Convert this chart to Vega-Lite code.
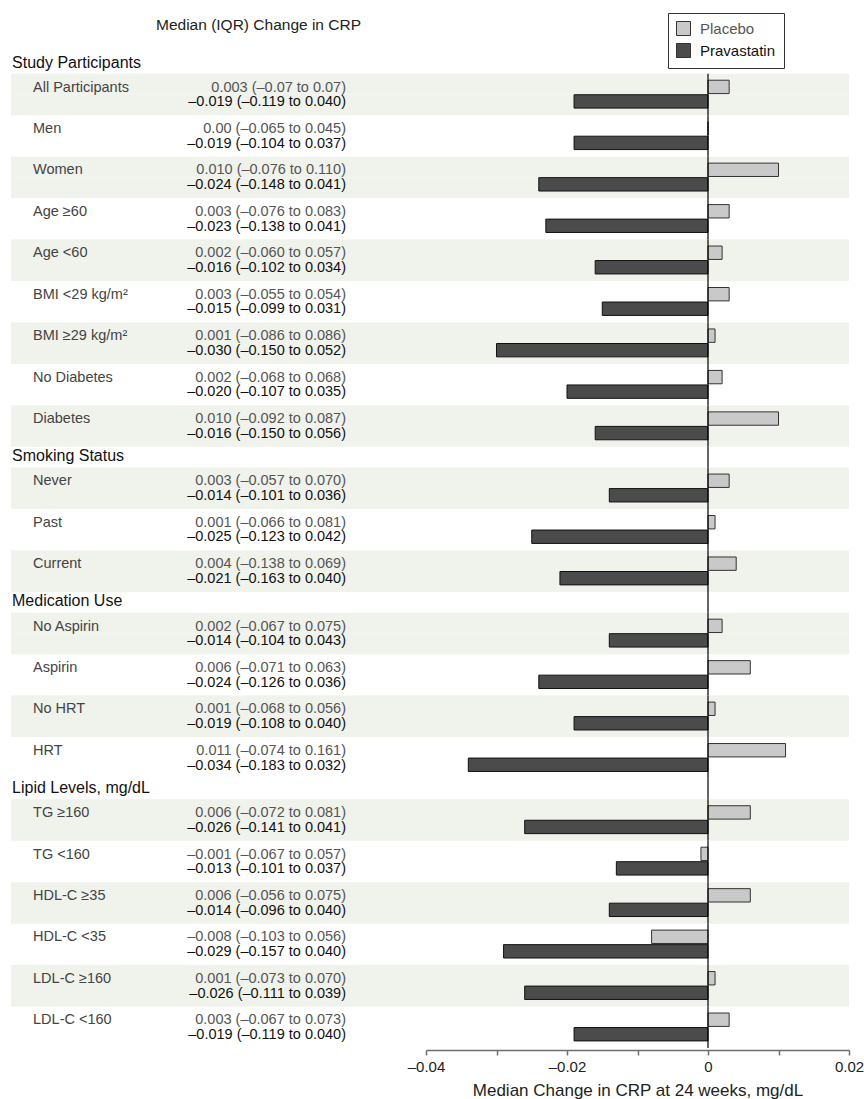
{
  "$schema": "https://vega.github.io/schema/vega-lite/v6.json",
  "background": "white",
  "padding": {"left": 11, "top": 12, "right": 5, "bottom": 5},
  "config": {"font": "Liberation Sans", "view": {"stroke": null}},
  "bounds": "flush",
  "spacing": 0,
  "resolve": {"scale": {"y": "shared"}, "legend": {"color": "independent"}},
  "data": {
    "values": [
      {"section": "Study Participants"},
      {"section": "Study Participants", "group": "All Participants", "arm": "Placebo", "median": 0.003, "text": "0.003 (–0.07 to 0.07)"},
      {"section": "Study Participants", "group": "All Participants", "arm": "Pravastatin", "median": -0.019, "text": "–0.019 (–0.119 to 0.040)"},
      {"section": "Study Participants", "group": "Men", "arm": "Placebo", "median": 0.0, "text": "0.00 (–0.065 to 0.045)"},
      {"section": "Study Participants", "group": "Men", "arm": "Pravastatin", "median": -0.019, "text": "–0.019 (–0.104 to 0.037)"},
      {"section": "Study Participants", "group": "Women", "arm": "Placebo", "median": 0.010, "text": "0.010 (–0.076 to 0.110)"},
      {"section": "Study Participants", "group": "Women", "arm": "Pravastatin", "median": -0.024, "text": "–0.024 (–0.148 to 0.041)"},
      {"section": "Study Participants", "group": "Age ≥60", "arm": "Placebo", "median": 0.003, "text": "0.003 (–0.076 to 0.083)"},
      {"section": "Study Participants", "group": "Age ≥60", "arm": "Pravastatin", "median": -0.023, "text": "–0.023 (–0.138 to 0.041)"},
      {"section": "Study Participants", "group": "Age <60", "arm": "Placebo", "median": 0.002, "text": "0.002 (–0.060 to 0.057)"},
      {"section": "Study Participants", "group": "Age <60", "arm": "Pravastatin", "median": -0.016, "text": "–0.016 (–0.102 to 0.034)"},
      {"section": "Study Participants", "group": "BMI <29 kg/m²", "arm": "Placebo", "median": 0.003, "text": "0.003 (–0.055 to 0.054)"},
      {"section": "Study Participants", "group": "BMI <29 kg/m²", "arm": "Pravastatin", "median": -0.015, "text": "–0.015 (–0.099 to 0.031)"},
      {"section": "Study Participants", "group": "BMI ≥29 kg/m²", "arm": "Placebo", "median": 0.001, "text": "0.001 (–0.086 to 0.086)"},
      {"section": "Study Participants", "group": "BMI ≥29 kg/m²", "arm": "Pravastatin", "median": -0.030, "text": "–0.030 (–0.150 to 0.052)"},
      {"section": "Study Participants", "group": "No Diabetes", "arm": "Placebo", "median": 0.002, "text": "0.002 (–0.068 to 0.068)"},
      {"section": "Study Participants", "group": "No Diabetes", "arm": "Pravastatin", "median": -0.020, "text": "–0.020 (–0.107 to 0.035)"},
      {"section": "Study Participants", "group": "Diabetes", "arm": "Placebo", "median": 0.010, "text": "0.010 (–0.092 to 0.087)"},
      {"section": "Study Participants", "group": "Diabetes", "arm": "Pravastatin", "median": -0.016, "text": "–0.016 (–0.150 to 0.056)"},
      {"section": "Smoking Status"},
      {"section": "Smoking Status", "group": "Never", "arm": "Placebo", "median": 0.003, "text": "0.003 (–0.057 to 0.070)"},
      {"section": "Smoking Status", "group": "Never", "arm": "Pravastatin", "median": -0.014, "text": "–0.014 (–0.101 to 0.036)"},
      {"section": "Smoking Status", "group": "Past", "arm": "Placebo", "median": 0.001, "text": "0.001 (–0.066 to 0.081)"},
      {"section": "Smoking Status", "group": "Past", "arm": "Pravastatin", "median": -0.025, "text": "–0.025 (–0.123 to 0.042)"},
      {"section": "Smoking Status", "group": "Current", "arm": "Placebo", "median": 0.004, "text": "0.004 (–0.138 to 0.069)"},
      {"section": "Smoking Status", "group": "Current", "arm": "Pravastatin", "median": -0.021, "text": "–0.021 (–0.163 to 0.040)"},
      {"section": "Medication Use"},
      {"section": "Medication Use", "group": "No Aspirin", "arm": "Placebo", "median": 0.002, "text": "0.002 (–0.067 to 0.075)"},
      {"section": "Medication Use", "group": "No Aspirin", "arm": "Pravastatin", "median": -0.014, "text": "–0.014 (–0.104 to 0.043)"},
      {"section": "Medication Use", "group": "Aspirin", "arm": "Placebo", "median": 0.006, "text": "0.006 (–0.071 to 0.063)"},
      {"section": "Medication Use", "group": "Aspirin", "arm": "Pravastatin", "median": -0.024, "text": "–0.024 (–0.126 to 0.036)"},
      {"section": "Medication Use", "group": "No HRT", "arm": "Placebo", "median": 0.001, "text": "0.001 (–0.068 to 0.056)"},
      {"section": "Medication Use", "group": "No HRT", "arm": "Pravastatin", "median": -0.019, "text": "–0.019 (–0.108 to 0.040)"},
      {"section": "Medication Use", "group": "HRT", "arm": "Placebo", "median": 0.011, "text": "0.011 (–0.074 to 0.161)"},
      {"section": "Medication Use", "group": "HRT", "arm": "Pravastatin", "median": -0.034, "text": "–0.034 (–0.183 to 0.032)"},
      {"section": "Lipid Levels, mg/dL"},
      {"section": "Lipid Levels, mg/dL", "group": "TG ≥160", "arm": "Placebo", "median": 0.006, "text": "0.006 (–0.072 to 0.081)"},
      {"section": "Lipid Levels, mg/dL", "group": "TG ≥160", "arm": "Pravastatin", "median": -0.026, "text": "–0.026 (–0.141 to 0.041)"},
      {"section": "Lipid Levels, mg/dL", "group": "TG <160", "arm": "Placebo", "median": -0.001, "text": "–0.001 (–0.067 to 0.057)"},
      {"section": "Lipid Levels, mg/dL", "group": "TG <160", "arm": "Pravastatin", "median": -0.013, "text": "–0.013 (–0.101 to 0.037)"},
      {"section": "Lipid Levels, mg/dL", "group": "HDL-C ≥35", "arm": "Placebo", "median": 0.006, "text": "0.006 (–0.056 to 0.075)"},
      {"section": "Lipid Levels, mg/dL", "group": "HDL-C ≥35", "arm": "Pravastatin", "median": -0.014, "text": "–0.014 (–0.096 to 0.040)"},
      {"section": "Lipid Levels, mg/dL", "group": "HDL-C <35", "arm": "Placebo", "median": -0.008, "text": "–0.008 (–0.103 to 0.056)"},
      {"section": "Lipid Levels, mg/dL", "group": "HDL-C <35", "arm": "Pravastatin", "median": -0.029, "text": "–0.029 (–0.157 to 0.040)"},
      {"section": "Lipid Levels, mg/dL", "group": "LDL-C ≥160", "arm": "Placebo", "median": 0.001, "text": "0.001 (–0.073 to 0.070)"},
      {"section": "Lipid Levels, mg/dL", "group": "LDL-C ≥160", "arm": "Pravastatin", "median": -0.026, "text": "–0.026 (–0.111 to 0.039)"},
      {"section": "Lipid Levels, mg/dL", "group": "LDL-C <160", "arm": "Placebo", "median": 0.003, "text": "0.003 (–0.067 to 0.073)"},
      {"section": "Lipid Levels, mg/dL", "group": "LDL-C <160", "arm": "Pravastatin", "median": -0.019, "text": "–0.019 (–0.119 to 0.040)"}
    ]
  },
  "transform": [
    {"window": [{"op": "row_number", "as": "line"}]},
    {"joinaggregate": [{"op": "min", "field": "line", "as": "first"}], "groupby": ["section", "group"]},
    {"window": [{"op": "dense_rank", "as": "rank"}], "sort": [{"field": "first"}], "groupby": ["section"]}
  ],
  "hconcat": [
    {
      "width": 415,
      "height": 995,
      "title": {"text": "Median (IQR) Change in CRP", "anchor": "start", "frame": "group", "dx": 145, "offset": 20, "fontSize": 15.5, "fontWeight": "normal", "color": "#222"},
      "layer": [
        {
          "transform": [{"filter": "datum.rank % 2 === 0"}],
          "mark": {"type": "rect", "color": "#f0f2ec"},
          "encoding": {
            "y": {"field": "line", "type": "ordinal", "axis": null, "scale": {"type": "band", "paddingInner": 0, "paddingOuter": 0}}
          }
        },
        {
          "transform": [{"filter": "!datum.arm"}],
          "mark": {"type": "text", "align": "left", "baseline": "alphabetic", "dx": -21, "fontSize": 16, "color": "#111"},
          "encoding": {
            "x": {"datum": "label", "type": "nominal", "bandPosition": 0, "axis": null, "scale": {"type": "band", "domain": ["label", "value"], "paddingInner": 0, "paddingOuter": 0.326, "align": 0.216}},
            "y": {"field": "line", "type": "ordinal", "axis": null, "bandPosition": 0.7},
            "text": {"field": "section"}
          }
        },
        {
          "transform": [{"filter": "datum.arm === 'Placebo'"}],
          "mark": {"type": "text", "align": "left", "baseline": "alphabetic", "fontSize": 14.5, "color": "#444"},
          "encoding": {
            "x": {"datum": "label", "type": "nominal", "bandPosition": 0, "axis": null},
            "y": {"field": "line", "type": "ordinal", "axis": null, "bandPosition": 0.86},
            "text": {"field": "group"}
          }
        },
        {
          "transform": [{"filter": "datum.arm === 'Placebo'"}],
          "mark": {"type": "text", "align": "right", "baseline": "alphabetic", "fontSize": 14.5, "color": "#555"},
          "encoding": {
            "x": {"datum": "value", "type": "nominal", "bandPosition": 1, "axis": null},
            "y": {"field": "line", "type": "ordinal", "axis": null, "bandPosition": 0.86},
            "text": {"field": "text"}
          }
        },
        {
          "transform": [{"filter": "datum.arm === 'Pravastatin'"}],
          "mark": {"type": "text", "align": "right", "baseline": "alphabetic", "fontSize": 14.5, "color": "#111"},
          "encoding": {
            "x": {"datum": "value", "type": "nominal", "bandPosition": 1, "axis": null},
            "y": {"field": "line", "type": "ordinal", "axis": null, "bandPosition": 0.565},
            "text": {"field": "text"}
          }
        }
      ]
    },
    {
      "width": 423,
      "height": 995,
      "layer": [
        {
          "transform": [{"filter": "datum.rank % 2 === 0"}],
          "mark": {"type": "rect", "color": "#f0f2ec"},
          "encoding": {
            "y": {"field": "line", "type": "ordinal", "axis": null}
          }
        },
        {
          "transform": [{"filter": "datum.arm === 'Placebo'"}],
          "mark": {"type": "bar", "height": {"band": 0.645}, "yOffset": 2.8, "stroke": "#333", "strokeWidth": 1},
          "encoding": {
            "x": {
              "field": "median", "type": "quantitative",
              "title": "Median Change in CRP at 24 weeks, mg/dL",
              "scale": {"domain": [-0.04, 0.02], "nice": false, "zero": false},
              "axis": {
                "values": [-0.04, -0.03, -0.02, -0.01, 0, 0.01, 0.02],
                "labelExpr": "datum.value === 0 ? '0' : datum.value === 0.02 ? '0.02' : datum.value === -0.02 ? '–0.02' : datum.value === -0.04 ? '–0.04' : ''",
                "grid": false, "offset": 2, "labelFlush": false, "labelOverlap": false,
                "domainColor": "#6e6e6e", "domainWidth": 1.5, "tickColor": "#6e6e6e", "tickWidth": 1.5, "tickSize": 5,
                "labelFontSize": 15, "labelColor": "#222", "labelPadding": 4,
                "titleFontSize": 17, "titleFontWeight": "normal", "titleColor": "#222", "titlePadding": 8
              }
            },
            "y": {"field": "line", "type": "ordinal", "axis": null},
            "color": {
              "field": "arm", "type": "nominal",
              "scale": {"domain": ["Placebo", "Pravastatin"], "range": ["#c9c9c9", "#4b4b4b"]},
              "legend": {
                "title": null, "orient": "none", "legendX": 242, "legendY": -40,
                "symbolType": "square", "symbolSize": 196, "symbolStrokeColor": "#333", "symbolStrokeWidth": 1,
                "labelFontSize": 15, "labelOffset": 9, "rowPadding": 3, "padding": 8,
                "strokeColor": "#333", "fillColor": "white",
                "encode": {"labels": {"update": {"fill": {"signal": "datum.label === 'Placebo' ? '#555' : '#111'"}}}}
              }
            }
          }
        },
        {
          "transform": [{"filter": "datum.arm === 'Pravastatin'"}],
          "mark": {"type": "bar", "height": {"band": 0.645}, "yOffset": -3.4, "stroke": "#111", "strokeWidth": 1},
          "encoding": {
            "x": {"field": "median", "type": "quantitative", "title": "Median Change in CRP at 24 weeks, mg/dL"},
            "y": {"field": "line", "type": "ordinal", "axis": null},
            "color": {"field": "arm", "type": "nominal"}
          }
        },
        {
          "transform": [{"filter": "datum.line > 1"}],
          "mark": {"type": "bar", "color": "#000", "stroke": "#000", "strokeWidth": 1.2},
          "encoding": {
            "x": {"datum": 0, "type": "quantitative", "title": "Median Change in CRP at 24 weeks, mg/dL"},
            "y": {"field": "line", "type": "ordinal", "axis": null}
          }
        }
      ]
    }
  ]
}
